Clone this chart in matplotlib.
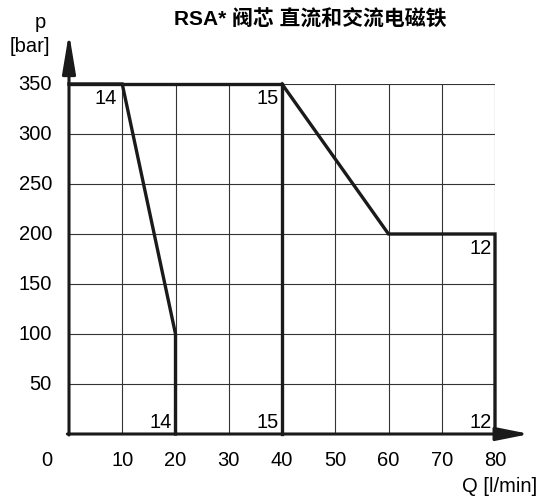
import matplotlib.pyplot as plt

plt.rcParams['font.family'] = ['Liberation Sans', 'Noto Sans CJK SC', 'DejaVu Sans']

# Characteristic curves: flow Q [l/min] vs pressure p [bar]
q_14 = [0, 10, 20, 20]
p_14 = [350, 350, 100, 0]
q_15 = [0, 40, 40]
p_15 = [350, 350, 0]
q_12 = [40, 60, 80, 80]
p_12 = [350, 200, 200, 0]

x_ticks = [10, 20, 30, 40, 50, 60, 70, 80]
y_ticks = [50, 100, 150, 200, 250, 300, 350]

fig = plt.figure(figsize=(5.41, 5.01), dpi=100)
ax = fig.add_axes([69 / 541, 67 / 501, 426 / 541, 350 / 501])
ax.set_xlim(0, 80)
ax.set_ylim(0, 350)
ax.axis('off')

# grid
for x in x_ticks:
    ax.plot([x, x], [0, 350], color='#333333', lw=0.8, zorder=1)
for y in y_ticks:
    ax.plot([0, 80], [y, y], color='#333333', lw=0.8, zorder=1)

# axes with arrows
ax.annotate('', xy=(86.5, 0), xytext=(-0.3, 0), annotation_clip=False,
            arrowprops=dict(arrowstyle='-|>,head_length=2.0,head_width=0.4',
                            lw=2.2, color='#1a1a1a', shrinkA=0, shrinkB=0))
ax.annotate('', xy=(0, 401), xytext=(0, -1), annotation_clip=False,
            arrowprops=dict(arrowstyle='-|>,head_length=2.4,head_width=0.4',
                            lw=2.2, color='#1a1a1a', shrinkA=0, shrinkB=0))

for q, p in [(q_14, p_14), (q_15, p_15), (q_12, p_12)]:
    ax.plot(q, p, color='#1a1a1a', lw=2.4, solid_joinstyle='miter',
            clip_on=False, zorder=3)

fs = 14.5
# curve labels
ax.text(9, 345, '14', ha='right', va='top', fontsize=fs)
ax.text(39.3, 345, '15', ha='right', va='top', fontsize=fs)
ax.text(79.3, 195, '12', ha='right', va='top', fontsize=fs)
ax.text(19.3, 2, '14', ha='right', va='bottom', fontsize=fs)
ax.text(39.3, 2, '15', ha='right', va='bottom', fontsize=fs)
ax.text(79.3, 2, '12', ha='right', va='bottom', fontsize=fs)

# tick labels
for x in x_ticks:
    ax.text(x, -26, str(x), ha='center', va='center', fontsize=fs, clip_on=False)
ax.text(-4.2, -26, '0', ha='center', va='center', fontsize=fs)
for y in y_ticks:
    ax.text(-3.2, y, str(y), ha='right', va='center', fontsize=fs)

fig.text(40 / 541, 1 - 22 / 501, 'p', ha='center', va='center', fontsize=fs)
fig.text(30 / 541, 1 - 46 / 501, '[bar]', ha='center', va='center', fontsize=fs)
fig.text(537 / 541, 1 - 487 / 501, 'Q [l/min]', ha='right', va='center', fontsize=fs)
fig.text(310 / 541, 1 - 20 / 501, 'RSA* 阀芯 直流和交流电磁铁', ha='center',
         va='center', fontsize=15, fontweight='bold')

fig.savefig('out.png', dpi=100)
